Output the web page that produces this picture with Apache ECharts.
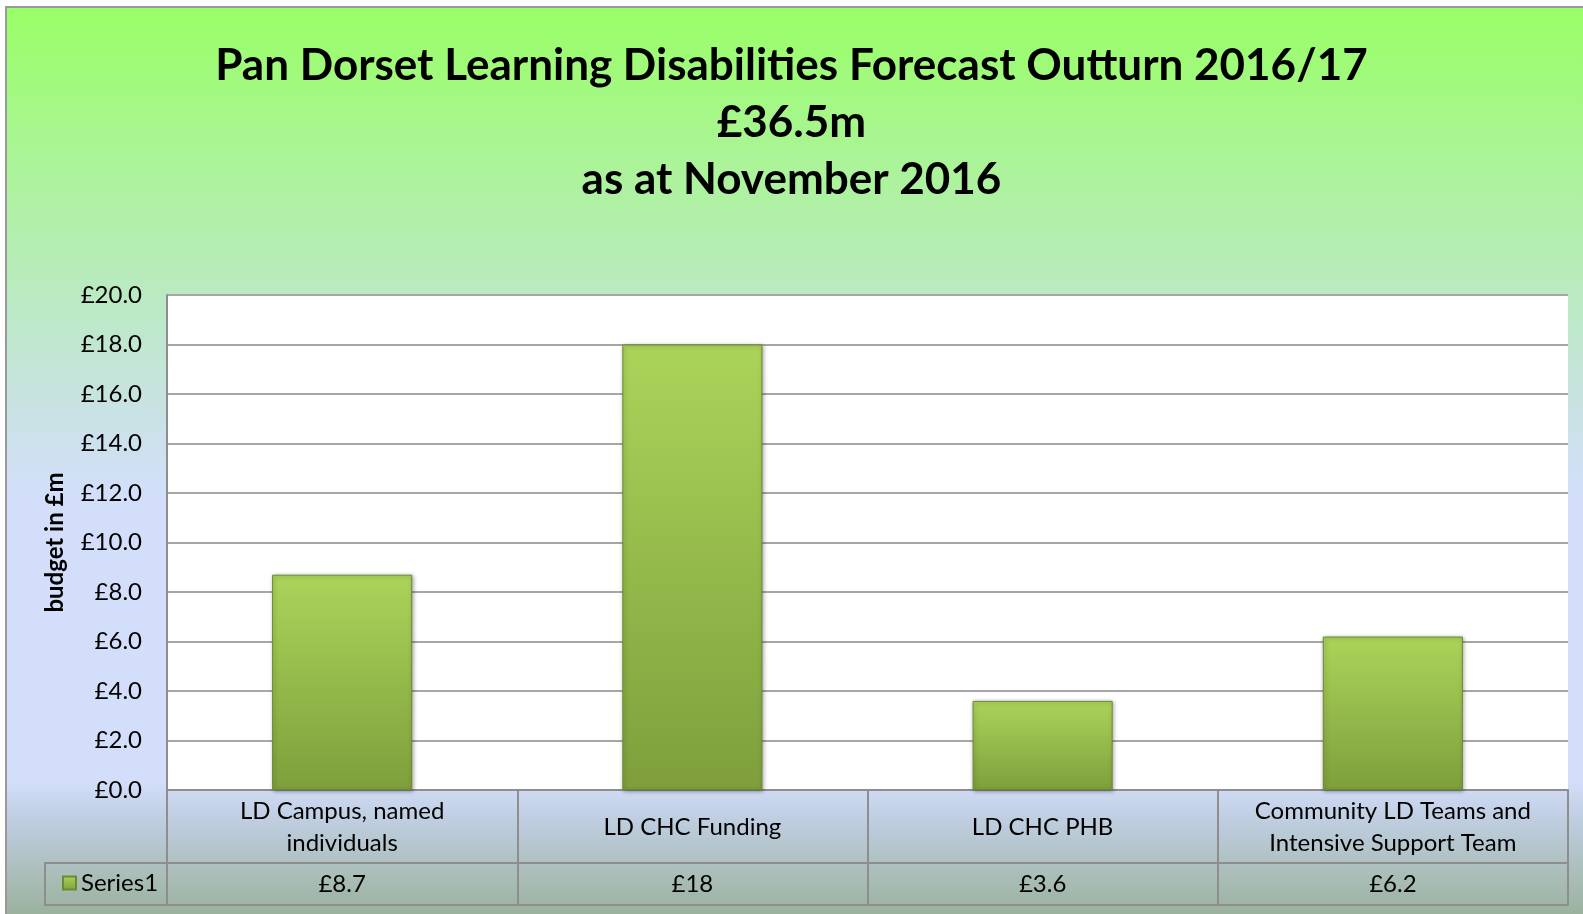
<!DOCTYPE html>
<html>
<head>
<meta charset="utf-8">
<script src="https://cdn.jsdelivr.net/npm/echarts@6/dist/echarts.min.js"></script>
<style>
html,body{margin:0;padding:0;background:#fff;}
#chart{width:1583px;height:914px;}
</style>
</head>
<body>
<div id="chart"></div>
<script>
const titleLines = ['Pan Dorset Learning Disabilities Forecast Outturn 2016/17', '£36.5m', 'as at November 2016'];
const categories = ['LD Campus, named\nindividuals', 'LD CHC Funding', 'LD CHC PHB', 'Community LD Teams and\nIntensive Support Team'];
const values = [8.7, 18, 3.6, 6.2];
const seriesName = 'Series1';
const yAxisName = 'budget in £m';
const yMin = 0, yMax = 20, yStep = 2;

const FONT = 'Lato, "Open Sans", sans-serif';
const GREY = '#8E8E8E';

const chart = echarts.init(document.getElementById('chart'));
chart.setOption({
  animation: false,
  backgroundColor: '#ffffff',
  textStyle: { fontFamily: FONT },
  title: {
    text: titleLines.join('\n'),
    left: 'center',
    top: 32,
    textStyle: { fontFamily: FONT, fontSize: 44, fontWeight: 'bold', color: '#000', lineHeight: 57 }
  },
  legend: {
    data: [seriesName],
    left: 62,
    top: 871,
    padding: 0,
    icon: 'rect',
    itemWidth: 13,
    itemHeight: 13,
    itemGap: 5,
    textStyle: { fontFamily: FONT, fontSize: 24, color: '#000' }
  },
  graphic: [
    {
      type: 'rect', z: -100, silent: true,
      shape: { x: 6, y: 7, width: 1583, height: 920 },
      style: {
        fill: new echarts.graphic.LinearGradient(0, 0, 0, 1, [
          { offset: 0, color: '#99FF66' },
          { offset: 0.3, color: '#B9EBBE' },
          { offset: 0.44, color: '#C9E2E4' },
          { offset: 0.53, color: '#D3DFFA' },
          { offset: 0.84, color: '#D3DFFA' },
          { offset: 0.88, color: '#C0CEE2' },
          { offset: 1, color: '#96AE94' }
        ]),
        stroke: '#999999', lineWidth: 2
      }
    },
    {
      type: 'rect', z: 10, silent: true,
      shape: { x: 45, y: 863, width: 122, height: 42 },
      style: { fill: null, stroke: GREY, lineWidth: 2 }
    }
  ],
  grid: {
    left: 167, right: 15, top: 295, bottom: 124,
    show: true, backgroundColor: '#ffffff', borderWidth: 0
  },
  xAxis: [
    {
      type: 'category', data: categories, position: 'bottom',
      axisLine: { show: true, lineStyle: { color: GREY, width: 2 } },
      axisTick: { show: true, length: 115, interval: 0, lineStyle: { color: GREY, width: 2 } },
      axisLabel: { interval: 0, margin: 37, verticalAlign: 'middle', fontSize: 24, lineHeight: 32, color: '#000', fontFamily: FONT }
    },
    {
      type: 'category', data: values.map(v => '£' + v), position: 'bottom', offset: 73,
      axisLine: { show: true, lineStyle: { color: GREY, width: 2 } },
      axisTick: { show: false },
      axisLabel: { interval: 0, margin: 21, verticalAlign: 'middle', fontSize: 24, color: '#000', fontFamily: FONT }
    },
    {
      type: 'category', data: categories, position: 'bottom', offset: 115,
      axisLine: { show: true, lineStyle: { color: GREY, width: 2 } },
      axisTick: { show: false },
      axisLabel: { show: false }
    }
  ],
  yAxis: {
    type: 'value', min: yMin, max: yMax, interval: yStep,
    name: yAxisName, nameLocation: 'middle', nameGap: 100, nameRotate: 90,
    nameTextStyle: { fontFamily: FONT, fontSize: 24, fontWeight: 'bold', color: '#000' },
    axisLine: { show: true, lineStyle: { color: GREY, width: 2 } },
    axisTick: { show: false },
    axisLabel: { margin: 25, fontSize: 24, color: '#000', fontFamily: FONT, formatter: v => '£' + v.toFixed(1) },
    splitLine: { show: true, lineStyle: { color: '#A6A6A6', width: 2 } }
  },
  series: [{
    name: seriesName,
    type: 'bar',
    data: values,
    barWidth: '40%',
    itemStyle: {
      color: new echarts.graphic.LinearGradient(0, 0, 0, 1, [
        { offset: 0, color: '#ABD45A' },
        { offset: 1, color: '#7E9F3C' }
      ]),
      borderColor: '#6C8A32', borderWidth: 1,
      shadowColor: 'rgba(0,0,0,0.35)', shadowBlur: 4, shadowOffsetX: 1, shadowOffsetY: 1
    }
  }]
});
</script>
</body>
</html>
